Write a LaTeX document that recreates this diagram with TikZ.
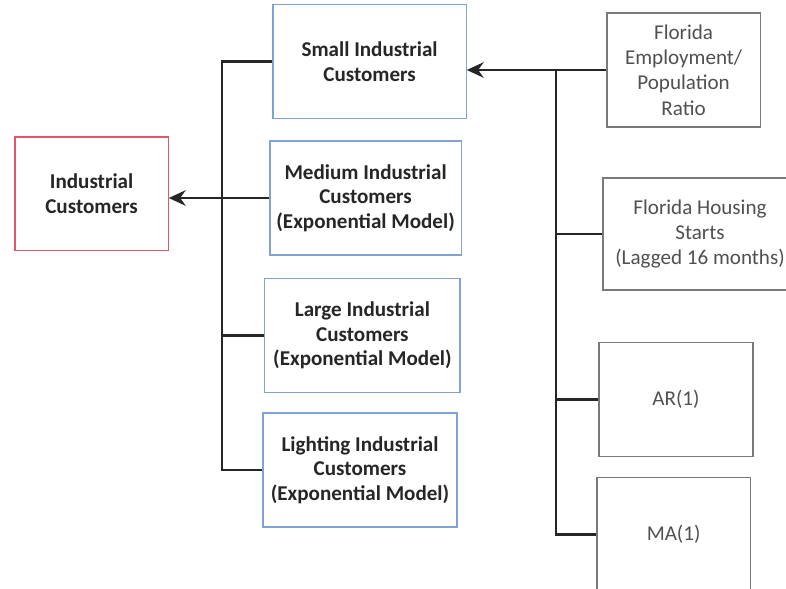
\documentclass[tikz,border=0pt]{standalone}
\usepackage{fontspec}
\setmainfont{Carlito}
\usepackage{xcolor}
\usepackage{tikz}
\usetikzlibrary{arrows.meta, positioning, calc}
\definecolor{boxred}{HTML}{E2566A}
\definecolor{boxblue}{HTML}{7FA3D2}
\definecolor{boxgray}{HTML}{7A7A7A}
\definecolor{inkgray}{HTML}{505050}

\begin{document}
\begin{tikzpicture}[
    total/.style={rectangle, draw=boxred, line width=0.8pt, minimum width=3.83cm,
                 minimum height=2.83cm, font=\fontsize{15}{17.5}\selectfont\bfseries,
                 text=black!85, align=center},
    segment/.style={rectangle, draw=boxblue, line width=0.8pt, minimum width=4.85cm,
                   minimum height=2.85cm, font=\fontsize{15}{17.5}\selectfont\bfseries,
                   text=black!85, align=center},
    driver/.style={rectangle, draw=boxgray, line width=0.8pt, minimum width=3.85cm,
                  minimum height=2.85cm, font=\fontsize{15}{18}\selectfont,
                  text=inkgray, align=center},
    link/.style={line width=2pt, black!85},
    arrow/.style={-{Stealth[length=12pt,width=11pt]}, line width=2pt, black!85}
]
\useasboundingbox (0,0) rectangle (19.65,-14.725);

% Total
\node[total] at (2.29,-4.84) (ind) {Industrial\\Customers};

% Classes
\node[segment, minimum width=4.83cm] at (9.24,-1.54) (small) {Small Industrial\\Customers};
\node[segment, minimum width=4.78cm] at (9.14,-4.95) (med) {Medium Industrial\\Customers\\(Exponential Model)};
\node[segment, minimum width=4.88cm] at (9.06,-8.39) (large) {Large Industrial\\Customers\\(Exponential Model)};
\node[segment] at (9.0,-11.75) (light) {Lighting Industrial\\Customers\\(Exponential Model)};

% Drivers
\node[driver, minimum width=3.83cm] at (17.09,-1.75) (emp) {Florida\\Employment/\\Population\\Ratio};
\node[driver, minimum width=4.85cm, minimum height=2.8cm] at (17.5,-5.85) (house) {Florida Housing\\Starts\\(Lagged 16 months)};
\node[driver] at (16.9,-9.98) (ar) {AR(1)};
\node[driver, minimum width=3.83cm] at (16.84,-13.36) (ma) {MA(1)};

\coordinate (lx) at (5.55,0);
\coordinate (rx) at (13.9,0);

% Left tree
\draw[link] (small.west) -- (small.west -| lx) -- (light.west -| lx) -- (light.west);
\draw[link] (large.west) -- (large.west -| lx);
\draw[arrow] (med.west) -- (med.west -| ind.east);

% Right tree
\draw[arrow] (emp.west) -- (emp.west -| small.east);
\draw[link] (emp.west -| rx) -- (ma.west -| rx) -- (ma.west);
\draw[link] (house.west) -- (house.west -| rx);
\draw[link] (ar.west) -- (ar.west -| rx);

\end{tikzpicture}
\end{document}
